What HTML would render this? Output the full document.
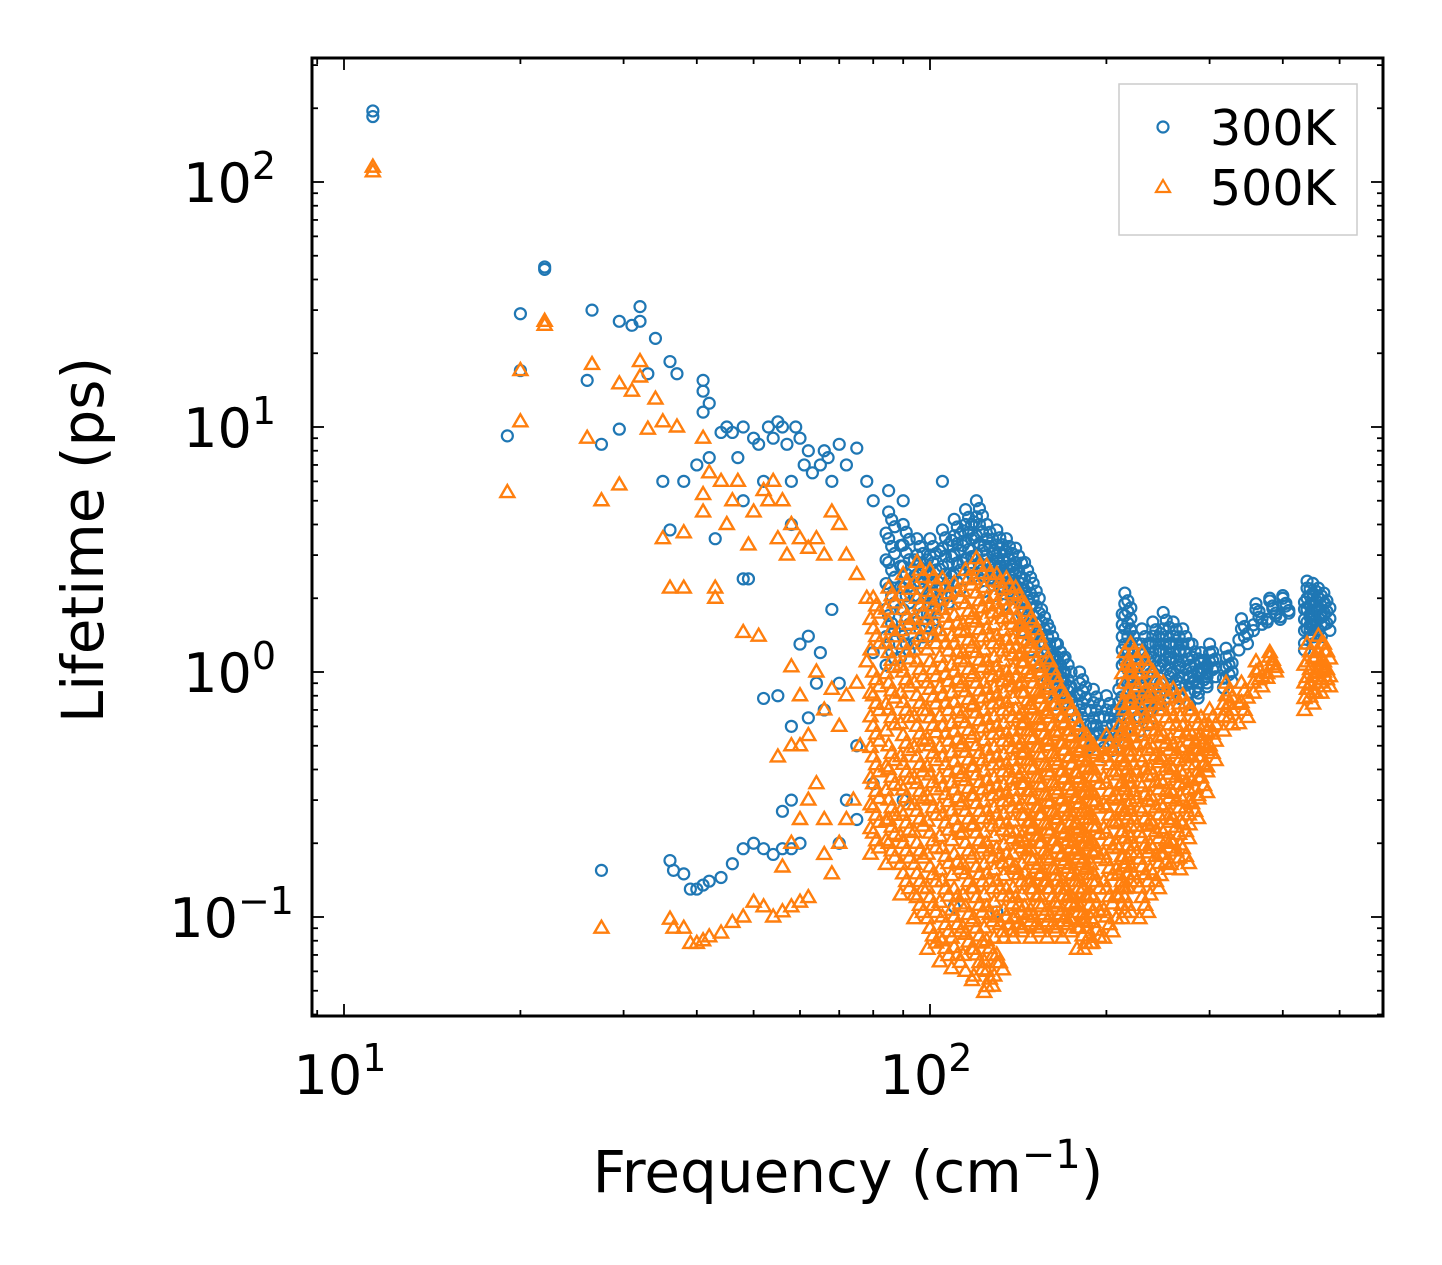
<!DOCTYPE html>
<html><head><meta charset="utf-8"><style>
html,body{margin:0;padding:0;background:#fff;}
svg{display:block;font-family:"DejaVu Sans","Liberation Sans",sans-serif;}
</style></head><body>
<svg id="chart" width="1442" height="1265" viewBox="0 0 1442 1265" xmlns="http://www.w3.org/2000/svg">
<rect x="0" y="0" width="1442" height="1265" fill="#fff"/>
<g id="marks"></g>
<g id="axes"></g>
<text x="848" y="1192" font-size="58" text-anchor="middle">Frequency (cm<tspan dy="-24" font-size="40">−1</tspan><tspan dy="24">)</tspan></text>
<text transform="translate(103,540) rotate(-90)" font-size="58" text-anchor="middle">Lifetime (ps)</text>
<g>
<rect x="1119" y="84" width="238" height="151" fill="#fff" fill-opacity="0.8" stroke="#ccc" stroke-width="1.5"/>
<circle cx="1163" cy="127" r="5.5" fill="none" stroke="#1f77b4" stroke-width="2.2"/>
<text x="1210" y="145" font-size="49">300K</text>
<polygon points="1163,180 1170,192 1156,192" fill="none" stroke="#ff7f0e" stroke-width="2.2"/>
<text x="1210" y="205" font-size="49">500K</text>
</g>
</svg>
<script>
// ---- data ----
const blueScatterFreq=[11.2,11.2,22,22,20,20,19,26.5,26,27.5,29.5,29.5,31,32,32,33,34,35,36,37,36,38,40,41,41,41,42,42,43,44,45,46,47,48,48,48,49,50,51,52,53,54,55,56,57,58,58,59,60,61,62,63,65,66,67,68,70,72,75,78,80,85,90,105,
27.5,36,36.5,38,39,40,41,42,44,46,48,50,52,54,56,58,60,56,58,58,55,52,60,62,65,68,70,72,75,80,110,130,70,80,90,75,64,66,62];
const blueScatterLife=[195,185,45,44,29,17,9.2,30,15.5,8.5,27,9.8,26,31,27,16.5,23,6,18.5,16.5,3.8,6,7,15.5,14,11.5,12.5,7.5,3.5,9.5,10,9.5,7.5,10,5,2.4,2.4,9,8.5,6,10,9,10.5,10,8.5,6,4,10,9,7,8,6.5,7,8,7.5,6,8.5,7,8.2,6,5,5.5,5,6,
0.155,0.17,0.155,0.15,0.13,0.13,0.135,0.14,0.145,0.165,0.19,0.2,0.19,0.18,0.19,0.19,0.2,0.27,0.3,0.6,0.8,0.78,1.3,1.4,1.2,1.8,0.9,0.3,0.5,1.2,0.11,0.105,0.2,0.35,0.3,0.25,0.9,0.7,0.65];
const blueColFreq=[85,90,95,100,105,110,115,120,125,130,135,140,145,150,155,160,165,170,180,190,200,210,215,220,230,240,250,260,270,280,290,300,320,340,360,380,400,440,450,460,470];
const blueColLife=[[4.5,3.5,2.8,2.2,1.7,1.3],[4,3.3,2.7,2.2,1.8,1.4],[3.5,3,2.5,2,1.6],[3.5,3,2.5,2.1,1.7],[3.8,3.2,2.7,2.2],[4.2,3.6,3,2.5],[4.6,4,3.4,2.9],[5,4.3,3.6,3],[4,3.5,3,2.6],[3.8,3.3,2.9,2.5],[3.5,3.1,2.7,2.3],[3.2,2.8,2.5,2.2],[2.8,2.4,2.1,1.8],[2.3,2.0,1.7,1.5],[1.8,1.6,1.4,1.2],[1.5,1.3,1.15,1.0],[1.3,1.15,1.0,0.9],[1.15,1.0,0.9,0.8],[1.0,0.9,0.8,0.7],[0.85,0.75,0.65,0.6],[0.8,0.7,0.6,0.55],[0.85,0.75,0.65],[2.1,1.9,1.7,1.5,1.3,1.1],[1.5,1.3,1.1,0.9,0.75],[1.5,1.3,1.1,0.95,0.8,0.7],[1.6,1.4,1.2,1.0,0.85],[1.75,1.5,1.3,1.1,0.9],[1.6,1.4,1.2,1.0],[1.5,1.3,1.1,0.95],[1.3,1.15,1.0,0.9],[1.2,1.1,1.0],[1.3,1.2,1.1],[1.25,1.15,1.05],[1.65,1.5],[1.9,1.8],[2.0,1.95],[2.05,2.0],[2.35,2.2,2.0,1.8,1.6,1.5],[2.3,2.1,1.9,1.7],[2.2,2.0,1.8],[2.1,1.9,1.7]];
const orangeScatterFreq=[11.2,11.2,22,22,20,20,19,26,26.5,27.5,29.5,29.5,31,32,32,33,34,35,35,36,37,38,38,41,41,41,42,43,43,44,45,46,47,48,49,50,51,52,53,54,55,56,57,58,60,62,64,66,68,70,72,75,78,
27.5,36,36.5,38,39,40,41,42,44,46,48,50,52,54,56,58,60,62,56,58,60,62,55,58,60,62,64,66,66,68,70,72,74,76,58,60,64,66,68,70,72,75,78,115,118,125,130,100];
const orangeScatterLife=[115,110,27,26,17,10.5,5.4,9,18,5,5.8,15,14,18.5,16,9.8,13,10.5,3.5,2.2,10,3.7,2.2,9,5.3,4.5,6.5,2.2,2,6,4,5,6,1.45,3.3,4.5,1.4,5.5,5,6,3.5,5,3,4,3.5,3.2,3.5,3,4.5,4,3,2.5,2,
0.09,0.098,0.09,0.09,0.078,0.078,0.08,0.083,0.086,0.095,0.1,0.115,0.11,0.1,0.105,0.11,0.115,0.12,0.16,0.2,0.25,0.3,0.45,0.5,0.5,0.55,0.35,0.25,0.18,0.15,0.2,0.25,0.3,0.5,1.05,0.8,1.0,0.7,0.85,0.6,0.8,0.9,1.1,0.06,0.055,0.052,0.065,0.09];
const orangeColFreq=[80,85,90,95,100,105,110,115,120,125,130,135,140,145,150,155,160,165,170,175,180,185,190,200,210,215,220,230,240,250,260,270,280,290,300,320,340,360,380,440,460,470];
const orangeColLife=[[2.0,1.5,1.0,0.8,0.6,0.45,0.35,0.28,0.22],[2.2,1.6,1.2,0.9,0.7,0.5,0.4,0.3,0.25,0.2],[2.5,1.8,1.3,1.0,0.75,0.55,0.42,0.33,0.26,0.2,0.15],[2.8,2.0,1.5,1.1,0.8,0.6,0.45,0.35,0.27,0.2,0.15,0.12],[2.6,2.0,1.5,1.1,0.85,0.65,0.5,0.38,0.3,0.22,0.16,0.12,0.09],[2.4,1.8,1.4,1.05,0.8,0.6,0.45,0.34,0.26,0.19,0.14,0.1,0.08],[2.3,1.7,1.3,1.0,0.75,0.57,0.43,0.33,0.25,0.18,0.13,0.1,0.075],[2.6,1.9,1.45,1.1,0.83,0.62,0.47,0.36,0.27,0.2,0.15,0.11,0.085],[2.9,2.1,1.6,1.2,0.9,0.68,0.5,0.38,0.29,0.22,0.16,0.12,0.09,0.07],[2.7,2.0,1.5,1.1,0.85,0.64,0.48,0.36,0.27,0.2,0.15,0.11,0.08,0.06],[2.5,1.9,1.4,1.05,0.8,0.6,0.45,0.34,0.26,0.19,0.14,0.1,0.07],[2.4,1.8,1.35,1.0,0.75,0.56,0.42,0.32,0.24,0.18,0.13,0.1],[2.2,1.65,1.25,0.95,0.7,0.53,0.4,0.3,0.22,0.16,0.12,0.1],[1.9,1.45,1.1,0.82,0.62,0.47,0.35,0.26,0.2,0.15,0.11],[1.6,1.2,0.9,0.7,0.53,0.4,0.3,0.23,0.17,0.13,0.1],[1.3,1.0,0.78,0.6,0.45,0.34,0.26,0.2,0.15,0.11],[1.1,0.85,0.65,0.5,0.38,0.29,0.22,0.17,0.13,0.1],[0.9,0.7,0.55,0.42,0.32,0.25,0.19,0.14,0.11],[0.8,0.62,0.48,0.37,0.28,0.22,0.17,0.13,0.1],[0.7,0.55,0.42,0.33,0.26,0.2,0.15,0.12],[0.6,0.47,0.37,0.29,0.23,0.18,0.14,0.11,0.09],[0.55,0.43,0.34,0.27,0.21,0.16,0.12,0.09],[0.5,0.4,0.32,0.25,0.2,0.15,0.12,0.095],[0.55,0.45,0.35,0.28,0.22,0.17,0.13,0.1],[0.6,0.48,0.38,0.3,0.24,0.19,0.15,0.12],[1.2,0.9,0.7,0.55,0.43,0.34,0.27,0.21,0.16,0.12],[1.3,1.0,0.75,0.58,0.45,0.35,0.27,0.21,0.16],[1.2,0.9,0.7,0.55,0.43,0.34,0.27,0.21,0.16,0.12],[1.0,0.8,0.62,0.49,0.38,0.3,0.24,0.19,0.15],[0.9,0.7,0.55,0.44,0.35,0.28,0.22,0.18],[0.85,0.65,0.5,0.4,0.32,0.25,0.2],[0.8,0.6,0.48,0.38,0.3,0.24,0.19],[0.7,0.55,0.45,0.36,0.29],[0.65,0.55,0.45,0.37],[0.7,0.6,0.5],[0.9,0.8,0.7],[0.9,0.75],[1.1,1.0],[1.2,1.15],[1.3,1.1,0.95,0.85],[1.4,1.2,1.0],[1.3,1.1,1.0]];
const xTickExps=[1,2];
const yTickExps=[-1,0,1,2];

// ---- axes ----
const PL=312,PR=1383,PT=58,PB=1016;
const X0=344,XD=586,Y0=672,YD=245;
function xs(f){return X0+(Math.log10(f)-1)*XD;}
function ys(v){return Y0-Math.log10(v)*YD;}
const NS='http://www.w3.org/2000/svg';
const marks=document.getElementById('marks'),axes=document.getElementById('axes');
function mk(tag,attrs,parent){const e=document.createElementNS(NS,tag);for(const k in attrs)e.setAttribute(k,attrs[k]);parent.appendChild(e);return e;}
function circ(f,v){const e=mk('circle',{cx:xs(f),cy:ys(v),r:5.5,fill:'none',stroke:'#1f77b4','stroke-width':2.2},marks);

}
function tri(f,v){const x=xs(f),y=ys(v);const e=mk('polygon',{points:`${x},${y-7.5} ${x+7},${y+4.5} ${x-7},${y+4.5}`,fill:'none',stroke:'#ff7f0e','stroke-width':2.4},marks);

}
const spreadF=[1,1.012,1.024,0.99],spreadV=[1,0.93,0.87,0.82];
blueScatterFreq.forEach((f,i)=>circ(f,blueScatterLife[i]));
blueColFreq.forEach((f,i)=>blueColLife[i].forEach(v=>{spreadF.forEach((sf,k)=>circ(f*sf,v*spreadV[k]));}));
orangeScatterFreq.forEach((f,i)=>tri(f,orangeScatterLife[i]));
orangeColFreq.forEach((f,i)=>orangeColLife[i].forEach(v=>{spreadF.forEach((sf,k)=>tri(f*sf,v*spreadV[k]));}));

function line(x1,y1,x2,y2,w,name){const e=mk('line',{x1,y1,x2,y2,stroke:'#000','stroke-width':w},axes);

}
for(let d=0;d<=2;d++)for(let m=1;m<10;m++){const f=m*Math.pow(10,d);const x=xs(f);if(x<PL||x>PR)continue;const L=m===1?12:6;
line(x,PB,x,PB-L,1.8,'x-tick');line(x,PT,x,PT+L,1.8,'x-tick-top');}
for(let d=-2;d<=2;d++)for(let m=1;m<10;m++){const v=m*Math.pow(10,d);const y=ys(v);if(y<PT||y>PB)continue;const L=m===1?12:6;
line(PL,y,PL+L,y,1.8,'y-tick');line(PR,y,PR-L,y,1.8,'y-tick-right');}
xTickExps.forEach(e=>{const t=mk('text',{x:xs(Math.pow(10,e))-4,y:1094,'font-size':54,'text-anchor':'middle'},axes);


t.innerHTML=`10<tspan dy="-23" font-size="38">${e}</tspan>`;});
yTickExps.forEach(e=>{const s=e<0?'−'+Math.abs(e):''+e;const t=mk('text',{x:e<0?294:276,y:ys(Math.pow(10,e))+20,'font-size':54,'text-anchor':'end'},axes);


t.innerHTML=`10<tspan dy="-23" font-size="38">${s}</tspan>`;});
const fr=mk('rect',{x:PL,y:PT,width:PR-PL,height:PB-PT,fill:'none',stroke:'#000','stroke-width':3},axes);


</script>
</body></html>
